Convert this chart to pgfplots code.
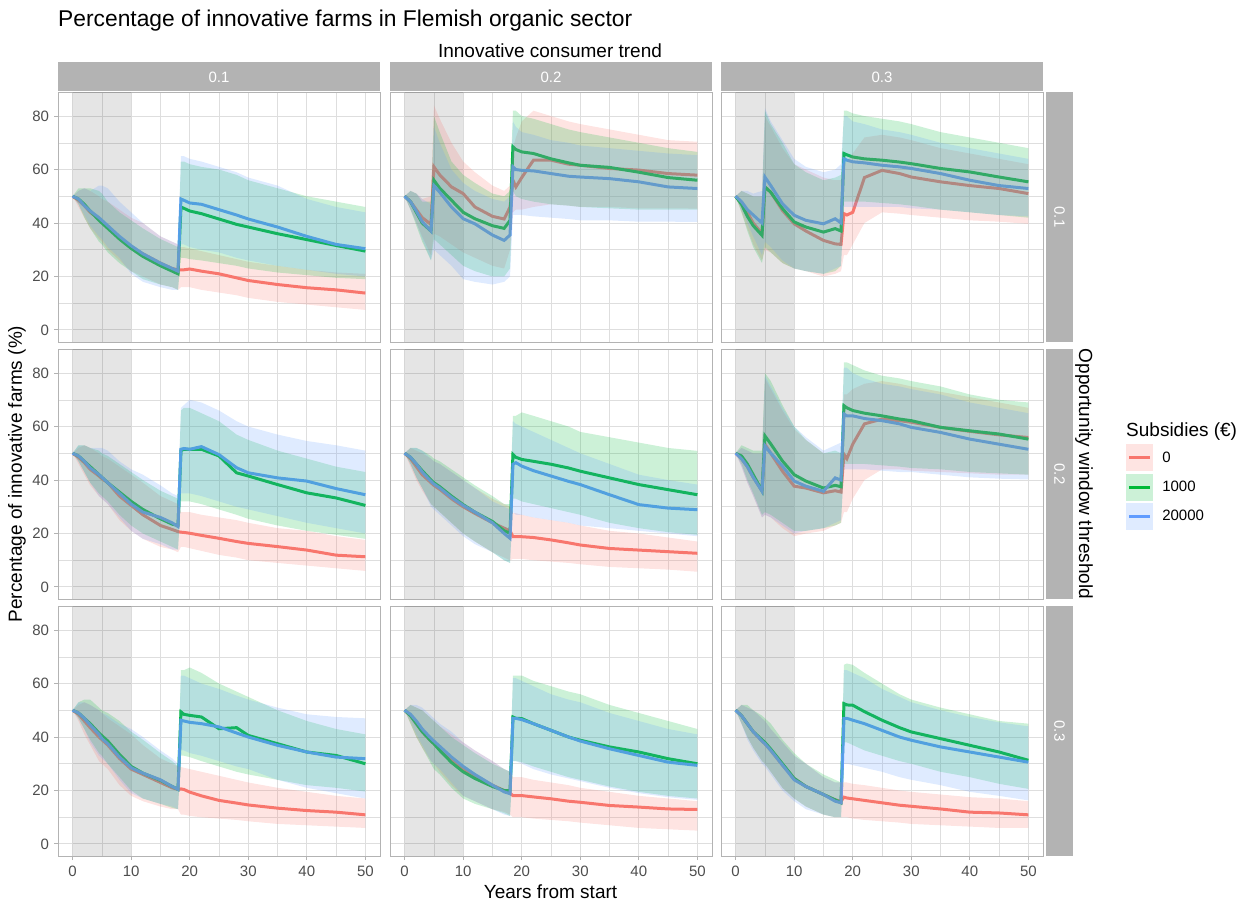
\documentclass[border=0pt]{standalone}
\usepackage{pgfplots}
\pgfplotsset{compat=1.18}
\usepackage{pgfplotstable}
\usepgfplotslibrary{fillbetween}
\usepackage{fontspec}
\setmainfont{Liberation Sans}
\definecolor{c0}{HTML}{F8766D}
\definecolor{c1}{HTML}{00BA38}
\definecolor{c2}{HTML}{619CFF}
\definecolor{grey70}{HTML}{B3B3B3}
\definecolor{grey87}{HTML}{DEDEDE}
\definecolor{grey30}{HTML}{4D4D4D}

\pgfplotstableread{
x m0 l0 u0 m1 l1 u1 m2 l2 u2
0 50 50 50 50 50 50 50 50 50
1 48.5 46 52 49 47 53 49 47 52
2 46.5 42 53 47 42 53 46.5 43 53
3 44 38 52 44.5 38 53 44.5 39 52
4.5 41.5 34 50 41 33 52 42 35 54
5 40.5 33 49 40 32 51 41 34 54
6 38.5 30 48 38 29 48 39 31 53
8 34.5 26 45 34 25 44 35 27 48
10 31 22 42 30.5 22 41 31.5 21 44
12 28.5 20 40 27.5 19 38 28.5 18 40
15 25 17 35 24 17 34 25 16 35
17 23 16 33 22 16 32 23 15 33
18 22.5 15 32 21 15 31 22 15 32
18.5 22.5 16 31 46 27 63 49 32 65
19 22.5 16 31 45.5 27 63 48.5 32 65
20 22.8 16 30.5 44.5 26.5 62 47.5 31 64
22 22 15 29.5 43.5 26 61 47 30 63
25 21 14 28 41.5 25 60 45 29 61
28 19.5 13 26.5 39.5 24 58 43 27 59
30 18.5 12 25.5 38.5 23 56 41.5 26 57
35 17 10.5 24 36 21.5 53 38.5 24 54
40 15.8 9.5 22.5 33.8 20.5 50 35 22.5 49
45 15 8.5 21.5 31.6 19.5 48 32 21 46
50 13.8 7.5 21 29.5 19 46 30.4 20 44
}\tA
\pgfplotstableread{
x m0 l0 u0 m1 l1 u1 m2 l2 u2
0 50 50 50 50 50 50 50 50 50
1 48 45 52 48 45 52 48 45 52
2 45 40 51 44 39 51 44.5 40 51
3 42 35 49 40 33 48 40.5 34 49
4.5 39.5 28 50 37 26 48 37 26 47
5 61 36 84 56 34 80 54 30 76
6 58 35 79 53 32 74 51.5 28 70
8 53.5 32 70 48.5 28 63 46 24 60
10 51 29 63 44 24 58 41.6 19 55
12 46 27 59 41.6 22 55 39.7 18 52
15 42.5 24 54 39 20 51 35.5 17 49
17 41.5 23 52 38 20 50 33.5 18 48
18 46 30 54 41 23 52 35.5 20 50
18.5 56 44 68 68.5 52 82 61 43 78
19 53.5 45 72 67.5 50 82 60 43 76
20 57 45 78 66.6 49 80 59.7 43 74
22 63.5 46 82 66 48 79 59.5 42.5 73
25 63.5 47 80 64 47 77 58.5 42 71
28 62 46.5 78 62.5 46.5 75 57.5 41.5 70
30 61.6 46 77 61.6 46 74 57.2 41 69
35 60.4 46 75 60.8 45.5 72 56.6 41 68
40 59.8 45.5 73 59 45 70 55.4 40.5 67
45 58.5 45.5 71 57 45 68 53.5 40.5 66
50 57.9 45.4 70.4 56 45 66.6 52.9 40.4 65.4
}\tB
\pgfplotstableread{
x m0 l0 u0 m1 l1 u1 m2 l2 u2
0 50 50 50 50 50 50 50 50 50
1 47.5 44 52 47 44 52 48 45 52
2 44 38 51 42.5 37 51 45 40 52
3 40 32 50 39 31 50 43 35 51
4.5 36 26 50 35.4 25 50 40 28 52
5 53.5 30 80 53.5 31 82 57.2 33 83
6 51.5 29 76 51.5 29 77 54 31 78
8 44.7 25 68 45.4 25 70 47.2 26 71
10 39.7 23 62 40.4 23 62 42.9 23 64
12 37 22 60 38.5 22 59 41 22 61
15 33.5 20 57 36.6 21 56 39.7 21 59
17 32.2 21 56 37.9 22 57 41.6 23 60
18 32 22 56 37 24 58 40 24 62
18.5 43.5 28 62 66 48 82 64 46 80
19 43 28 63 65.5 48 82 63.5 46 80
20 44 32 66 64.7 48 81 62.9 46 78
22 57 40 72 64 48 80 62.5 46 77
25 59.7 44 73 63.5 47.5 79 61.6 46 75
28 58.5 43.5 72 62.8 47 78 61 46 74
30 57.2 43 71 62.2 46.5 77 60.4 45.5 73
35 55.4 42 68 60.4 45 74 58.5 45 70
40 54 41 66 59.1 44 72 56 44 68
45 52.9 40.5 64 57.2 43 70 54 43 66
50 51 39.7 62 55.4 42 68 52.9 42.5 64
}\tC
\pgfplotstableread{
x m0 l0 u0 m1 l1 u1 m2 l2 u2
0 50 50 50 50 50 50 50 50 50
1 48.5 46 52 49 47 53 49 47 53
2 46.5 42 53 47 43 53 47 43 53
3 44 38 52 45 39 52 44.5 39 52
4.5 41.5 34 50 42 35 51 42 34 52
5 40.5 33 49 41 34 50 41 33 52
6 39 31 48 39 32 49 39 31 51
8 34 25 45 35.5 27 46 35 26 47
10 30.5 21 42 32 23 43 31 21 44
12 27 18 39 29 20 40 28 18 42
15 23 15 34 25.5 17 36 26 16 38
17 21.5 14 32 23.5 15 34 24 14 35
18 20.7 13 31 23 14 33 22.6 14 34
18.5 20.5 15 28 51 32 66 51.5 35 67
19 20.4 15 28 51.5 32 67 51.8 35 68
20 20.1 14.5 28 51.5 32 67 51.5 35 70
22 19.3 13.5 27 51.5 31 65 52.5 34 69
25 18.2 12 26 49 29 62 49.5 32 66
28 17 11 25 42.7 27 57 44.6 30 62
30 16.3 10 24 41.5 25.5 55 42.7 29 60
35 15.1 9 22 38.3 23 51 40.8 26.5 57
40 13.8 8 21 35.2 21 48 39.6 24 54.6
45 11.9 7 19 33.3 19.5 45 36.8 22 53
50 11.3 6 17.6 30.5 18 43 34.5 20 51
}\tD
\pgfplotstableread{
x m0 l0 u0 m1 l1 u1 m2 l2 u2
0 50 50 50 50 50 50 50 50 50
1 48 45 52 48.5 46 52 48.5 46 52
2 45 40 51 46 41 52 46 41 52
3 42 36 50 43.5 37 51 43 37 51
4.5 39 31 48 40 31 49 39.5 30 48
5 38 30 47 39 30 48 38.5 29 47
6 36.5 28 46 37.5 28 47 37 27 46
8 33 24 43 34 24 44 33.5 23 43
10 30 20 40 30.8 20 41 30.5 19 40
12 27.5 17 37 28 17 38 28 16 37
15 24 13 33 24.5 13 34 24 13 32
17 22 11 31 21 10 31 20 10 30
18 21 10 30 20.1 9 31 18.2 9 29
18.5 18.8 10.5 27.6 49.6 33 64 45.9 28 62
19 18.8 10.5 27.6 48.5 33 64 46.5 27 61
20 18.8 10.5 27 47.7 32 65.3 45.2 27 60
22 18.5 10 26 47 31 64 43.5 26 58
25 17.6 9.5 25 45.9 29.5 62 41.5 25 55
28 16.5 9 24 44.5 28 60 39.5 24 52
30 15.7 8.5 23 43.3 27 58 38.3 23 50
35 14.4 7.5 21 40.8 24 56 34.5 22 46
40 13.8 7 20 38.3 22 54 30.8 21 42
45 13.2 6.5 18.5 36.4 20.5 52 29.5 20 40
50 12.6 5.7 17 34.5 19.5 50.9 28.9 19 38.3
}\tE
\pgfplotstableread{
x m0 l0 u0 m1 l1 u1 m2 l2 u2
0 50 50 50 50 50 50 50 50 50
1 48 45 52 49 46 53 48 45 52
2 45 39 51 46 40 52 45 39 51
3 41 34 50 42 35 51 41 34 50
4.5 36 26 50 36 27 51 35.8 26 50
5 53.4 27 78 56.5 28 80 52.8 27 79
6 50 26 74 53.5 27 77 50 26 75
8 43.3 22 66 47.1 24 68 45.2 23 67
10 37.7 19 59 42 21 60 39.6 20 60
12 37 20 55 39.6 21 55 37.7 21 56
15 35.2 21 50 37 22 50 35.8 22 51
17 36 23 50 38 23 51 40.8 24 53
18 35.5 24 50 37.5 24 50 40 25 54
18.5 49.6 28 72 67.8 46 84 64.7 44 82
19 48 28 72 67 46 84 64 44 82
20 53.4 33 74 66 46 83 64 44 80
22 61 40 76 65 46 81 63 44 78
25 62.8 44 77 64 45.5 79 62.2 43.5 76
28 62.2 44 76 62.8 45 78 61 43 75
30 61.6 43.5 75 62.2 44.5 77 59.7 43 74
35 59.7 43 73 59.7 44 75 57.8 42 72
40 58.2 42.5 71 58.4 43 72 55.3 41 69
45 56.9 42 69 57.2 42.5 70 53.4 40.5 67
50 55.9 42 67 55.3 42 69 51.5 40.2 65
}\tF
\pgfplotstableread{
x m0 l0 u0 m1 l1 u1 m2 l2 u2
0 50 50 50 50 50 50 50 50 50
1 48.5 46 52 49 47 53 49 47 53
2 46 41 53 47 43 54 47 43 53
3 43.5 37 52 45 39 54 44.5 38 52
4.5 40 31 50 41.5 34 51 41 33 50
5 39 30 49 40.5 33 50 39.4 32 49
6 37 28 47 38.5 30 49 37.5 30 48
8 32 22 44 33.5 25 46 32.5 24 45
10 28 18 41 29 20 42 28.5 19 43
12 26 16 37 26.5 17 39 26.5 17 40
15 23 14 32 23.8 15 34 24 15 35
17 21 13 30 21.5 13.5 31 21.5 14 32
18 20.4 13 29 20.4 13 29 20.4 13 30
18.5 20.6 11 28.8 49.4 33 65 46.3 35 63
19 20.4 11 28.5 48.5 33 65 46 35 63
20 19.4 10.5 28 48.1 32.5 66 45.5 34 62
22 18 10 27 47.5 31 64 45 33 60
25 16.3 9.5 25.5 43.1 29 60 43.8 31 58
28 15.3 9 24 43.5 27 57 41.5 29 55.5
30 14.6 8.5 23 40.6 26 55 40 28 54
35 13.4 7.5 21 37.5 24 50 36.9 24 51
40 12.5 7 19.5 34.4 22 46 34.4 21 48.5
45 11.9 6.5 18 33.1 21 43 32.5 19 47.5
50 10.9 6 17 30 19.6 41 31.9 17 47
}\tG
\pgfplotstableread{
x m0 l0 u0 m1 l1 u1 m2 l2 u2
0 50 50 50 50 50 50 50 50 50
1 48 45 52 48 45 52 48.5 46 52
2 45 40 51 45 40 51 46 41 52
3 42 36 50 42 36 50 43 37 51
4.5 38.5 31 47 38.5 30 47 39.5 31 48
5 37.5 30 46 37.5 28 46 38.5 30 47
6 35.5 27 44 35 26 44 36.5 28 45
8 31.5 22 41 30.5 21 40 32.5 23 42
10 28 18 38 27 17 37 29 18 38
12 25.5 16 35 24.5 15 34 26 16 35
15 22 13 31 21.5 13 30 22 13 31
17 20 12 28 20 11.5 28 19.5 11 28
18 19 11 27 20 10.5 27 18.8 10.5 27
18.5 18.1 10 25 47.5 31 63 47 31 62
19 18.1 10 25 47 31 63 47 31 62
20 18.1 10 25 46.9 30.6 63 46.5 30 61
22 17.6 9.5 24 45 29 61 45 28 59
25 16.9 9 23 42.5 27 59 42.5 26 56
28 16 8.5 22 40 25 57 40 24.5 54
30 15.6 8 21 38.8 24 56 38.5 23.5 53
35 14.4 7 19.5 36.3 21.5 52 35.6 21 49
40 13.8 6 18 34.4 19.5 49 33.1 19 46
45 13.1 5.5 17 31.9 18 46 30.6 17.5 43
50 12.9 5 16 30 17 43 29.4 16.5 41
}\tH
\pgfplotstableread{
x m0 l0 u0 m1 l1 u1 m2 l2 u2
0 50 50 50 50 50 50 50 50 50
1 48 45 52 48 45 52 48 45 52
2 45 40 51 45 40 52 45 39 51
3 42 36 50 42 36 50 42 35 50
4.5 38.5 31 47 39 31 48 38.5 30 47
5 37.5 30 46 38 30 47 37.5 29 46
6 35 27 43 35.5 27 45 35 26 43
8 29.5 21 38 30 21 39 29.5 20 38
10 24.5 17 33 24.5 17 34 24 16 33
12 21.5 14 30 21.5 14 30 21.5 13 30
15 18.5 11 25 18.5 11 26 18.5 11 25
17 16.5 10 23 16.5 10 24 16 10 23
18 16 10 23 15.4 10 23 15.4 10 23
18.5 17.5 10 23 52.5 38 67 46.9 30 65
19 17.2 10 23 52 38 67.5 47 30 65
20 16.9 9.5 22.5 51.9 37 67 46.3 29.5 64
22 16.3 9 22 49.5 35 64 45 28.5 62
25 15.4 8.5 21 46.3 33 60 42.5 27 58
28 14.5 8 20 43.5 31 56 40 25 55
30 14.1 7.5 19.5 41.9 30 54 38.8 24 53
35 13.1 7 18.5 39.4 27 51 36.3 22 50
40 11.9 6.5 17.5 36.9 25 48.5 34.4 19.5 47.5
45 11.6 6 17 34.4 22.5 46 32.5 18 45.5
50 10.9 6 16 31.3 20.6 45 30.6 16.3 44
}\tI

\pgfplotsset{
  panel/.style={
    scale only axis, width=322pt, height=250pt, anchor=north west,
    set layers,
    xmin=-2.5, xmax=52.5, ymin=-4.5, ymax=89,
    xtick={0,10,...,50}, ytick={0,20,...,80},
    minor xtick={5,15,...,45}, minor ytick={10,30,50,70},
    grid=both,
    major grid style={color=grey87, line width=1pt},
    minor grid style={color=grey87, line width=0.55pt},
    axis line style={grey70, line width=1pt},
    tick style={grey70, line width=1pt},
    tick align=outside, tick pos=left,
    major tick length=4pt, minor tick length=0pt,
    /pgf/number format/assume math mode=true,
    ticklabel style={font=\fontsize{15}{15}\selectfont, text=grey30},
    xticklabel style={yshift=-2pt},
    yticklabel style={xshift=-1.5pt},
  },
  noy/.style={yticklabels={}, ytick style={draw=none}},
  nox/.style={xticklabels={}, xtick style={draw=none}},
}

\newcommand{\drawpanel}[1]{%
  \addplot[on layer=pre main, draw=none, fill=black, fill opacity=0.1, forget plot] coordinates {(0,-4.5) (0,89) (10,89) (10,-4.5) (0,-4.5)};
  \addplot[on layer=pre main, c0, line width=3pt, forget plot] table[x=x,y=m0]{#1};
  \addplot[on layer=pre main, c1, line width=3pt, forget plot] table[x=x,y=m1]{#1};
  \addplot[on layer=pre main, c2, line width=3pt, forget plot] table[x=x,y=m2]{#1};
  \addplot[name path=U0, draw=none, forget plot] table[x=x,y=u0]{#1};
  \addplot[name path=L0, draw=none, forget plot] table[x=x,y=l0]{#1};
  \addplot[c0, fill opacity=0.2, draw=none, forget plot] fill between[of=U0 and L0];
  \addplot[name path=U1, draw=none, forget plot] table[x=x,y=u1]{#1};
  \addplot[name path=L1, draw=none, forget plot] table[x=x,y=l1]{#1};
  \addplot[c1, fill opacity=0.2, draw=none, forget plot] fill between[of=U1 and L1];
  \addplot[name path=U2, draw=none, forget plot] table[x=x,y=u2]{#1};
  \addplot[name path=L2, draw=none, forget plot] table[x=x,y=l2]{#1};
  \addplot[c2, fill opacity=0.2, draw=none, forget plot] fill between[of=U2 and L2];
}

\begin{document}
\begin{tikzpicture}
\path (0pt,0pt) rectangle (1246pt,-902pt);
% row 1
\begin{axis}[panel, nox, at={(58pt,-92pt)}]\drawpanel{\tA}\end{axis}
\begin{axis}[panel, nox, noy, at={(390pt,-92pt)}]\drawpanel{\tB}\end{axis}
\begin{axis}[panel, nox, noy, at={(721pt,-92pt)}]\drawpanel{\tC}\end{axis}
% row 2
\begin{axis}[panel, nox, at={(58pt,-349pt)}]\drawpanel{\tD}\end{axis}
\begin{axis}[panel, nox, noy, at={(390pt,-349pt)}]\drawpanel{\tE}\end{axis}
\begin{axis}[panel, nox, noy, at={(721pt,-349pt)},
  legend style={at={(1.258,0.62)}, anchor=north west, draw=none, fill=none, inner sep=0pt,
    font=\fontsize{15}{15}\selectfont, row sep=2.3pt, nodes={inner xsep=9pt}},
  legend cell align=left]
\drawpanel{\tF}
\addlegendimage{legend image code/.code={\draw[draw=c0,line width=3pt,opacity=1] (3pt,0pt)--(24pt,0pt); \fill[draw=none,fill=c0,fill opacity=0.2] (0pt,-13.5pt) rectangle (27pt,13.5pt);}}
\addlegendentry{0}
\addlegendimage{legend image code/.code={\draw[draw=c1,line width=3pt,opacity=1] (3pt,0pt)--(24pt,0pt); \fill[draw=none,fill=c1,fill opacity=0.2] (0pt,-13.5pt) rectangle (27pt,13.5pt);}}
\addlegendentry{1000}
\addlegendimage{legend image code/.code={\draw[draw=c2,line width=3pt,opacity=1] (3pt,0pt)--(24pt,0pt); \fill[draw=none,fill=c2,fill opacity=0.2] (0pt,-13.5pt) rectangle (27pt,13.5pt);}}
\addlegendentry{20000}
\end{axis}
% row 3
\begin{axis}[panel, at={(58pt,-606pt)}]\drawpanel{\tG}\end{axis}
\begin{axis}[panel, noy, at={(390pt,-606pt)}]\drawpanel{\tH}\end{axis}
\begin{axis}[panel, noy, at={(721pt,-606pt)}]\drawpanel{\tI}\end{axis}

% strips
\fill[grey70] (58pt,-62pt) rectangle (380pt,-91pt);
\fill[grey70] (390pt,-62pt) rectangle (712pt,-91pt);
\fill[grey70] (721pt,-62pt) rectangle (1043pt,-91pt);
\node[anchor=base, text=white, font=\fontsize{15}{15}\selectfont] at (219pt,-82pt) {0.1};
\node[anchor=base, text=white, font=\fontsize{15}{15}\selectfont] at (551pt,-82pt) {0.2};
\node[anchor=base, text=white, font=\fontsize{15}{15}\selectfont] at (882pt,-82pt) {0.3};
\fill[grey70] (1046pt,-92pt) rectangle (1073pt,-342pt);
\fill[grey70] (1046pt,-349pt) rectangle (1073pt,-599pt);
\fill[grey70] (1046pt,-606pt) rectangle (1073pt,-856pt);
\node[text=white, rotate=-90, font=\fontsize{15}{15}\selectfont] at (1059.5pt,-217pt) {0.1};
\node[text=white, rotate=-90, font=\fontsize{15}{15}\selectfont] at (1059.5pt,-474pt) {0.2};
\node[text=white, rotate=-90, font=\fontsize{15}{15}\selectfont] at (1059.5pt,-731pt) {0.3};
\node[anchor=base west, inner sep=0pt, font=\fontsize{22.8}{24}\selectfont] at (58pt,-26pt) {Percentage of innovative farms in Flemish organic sector};
\node[anchor=base, inner sep=0pt, font=\fontsize{19}{19}\selectfont] at (550pt,-57pt) {Innovative consumer trend};
\node[rotate=-90, font=\fontsize{19}{19}\selectfont] at (1084pt,-474pt) {Opportunity window threshold};
\node[rotate=90, font=\fontsize{19}{19}\selectfont] at (17pt,-474pt) {Percentage of innovative farms (\%)};
\node[anchor=base, inner sep=0pt, font=\fontsize{19}{19}\selectfont] at (550.5pt,-898pt) {Years from start};
\node[anchor=base west, inner sep=0pt, font=\fontsize{19}{19}\selectfont] at (1126pt,-436pt) {Subsidies (€)};
\end{tikzpicture}
\end{document}
